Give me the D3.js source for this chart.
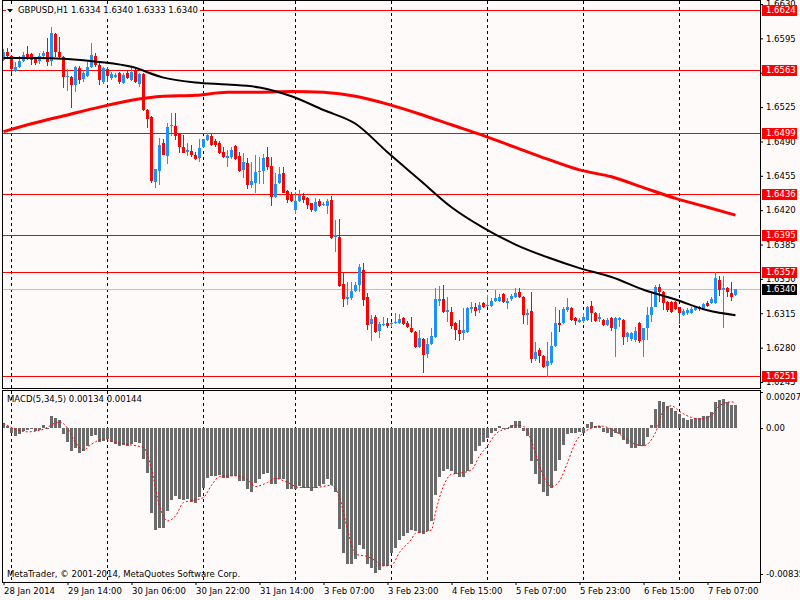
<!DOCTYPE html>
<html lang="en">
<head>
<meta charset="utf-8">
<title>GBPUSD,H1</title>
<script src="https://d3js.org/d3.v7.min.js"></script>
<style>
  body { margin: 0; background: #fffafa; }
  svg text { font-family: "DejaVu Sans", sans-serif; font-size: 8.5px; }
</style>
</head>
<body>
<div id="mainDiv"></div>
<script type="text/javascript">
const width = 800
const height = 600

// GBPUSD H1 candles, bar 0 = 28 Jan 22:00
const opens = [1.6573,1.6581,1.6577,1.6562,1.6566,1.6572,1.6579,1.6579,1.6574,1.6572,
  1.6577,1.6581,1.6572,1.6599,1.6581,1.6576,1.6556,1.6556,1.6548,1.6565,
  1.6554,1.6557,1.6566,1.6577,1.6568,1.6551,1.6564,1.6555,1.6556,1.6560,
  1.6550,1.6560,1.6553,1.6563,1.6549,1.6559,1.6522,1.6515,1.6449,1.6460,
  1.6488,1.6475,1.6506,1.6506,1.6498,1.6484,1.6479,1.6480,1.6476,1.6473,
  1.6484,1.6491,1.6496,1.6490,1.6488,1.6479,1.6473,1.6474,1.6485,1.6475,
  1.6461,1.6468,1.6446,1.6448,1.6459,1.6460,1.6474,1.6465,1.6433,1.6448,
  1.6458,1.6440,1.6435,1.6420,1.6429,1.6434,1.6432,1.6427,1.6419,1.6429,
  1.6425,1.6424,1.6430,1.6393,1.6393,1.6345,1.6330,1.6331,1.6338,1.6344,
  1.6359,1.6332,1.6304,1.6311,1.6297,1.6303,1.6305,1.6304,1.6305,1.6305,
  1.6310,1.6305,1.6300,1.6296,1.6281,1.6289,1.6274,1.6284,1.6291,1.6328,
  1.6330,1.6316,1.6316,1.6305,1.6298,1.6295,1.6296,1.6319,1.6321,1.6318,
  1.6325,1.6322,1.6322,1.6327,1.6328,1.6335,1.6325,1.6330,1.6332,1.6337,
  1.6332,1.6313,1.6317,1.6268,1.6278,1.6271,1.6261,1.6264,1.6282,1.6305,
  1.6305,1.6318,1.6320,1.6310,1.6306,1.6307,1.6308,1.6322,1.6315,1.6309,
  1.6308,1.6303,1.6310,1.6299,1.6308,1.6308,1.6291,1.6289,1.6288,1.6305,
  1.6288,1.6300,1.6313,1.6321,1.6342,1.6337,1.6326,1.6326,1.6326,1.6321,
  1.6313,1.6315,1.6315,1.6318,1.6321,1.6319,1.6325,1.6325,1.6325,1.6349,
  1.6339,1.6341,1.6336,1.6334]
const highs = [1.6584,1.6585,1.6578,1.6571,1.6577,1.6581,1.6587,1.6580,1.6576,1.6580,
  1.6582,1.6595,1.6607,1.6600,1.6596,1.6577,1.6564,1.6557,1.6567,1.6567,
  1.6563,1.6571,1.6590,1.6580,1.6570,1.6566,1.6566,1.6561,1.6560,1.6561,
  1.6560,1.6563,1.6565,1.6564,1.6560,1.6560,1.6523,1.6516,1.6462,1.6494,
  1.6493,1.6509,1.6519,1.6519,1.6499,1.6497,1.6488,1.6486,1.6479,1.6492,
  1.6493,1.6499,1.6498,1.6492,1.6490,1.6484,1.6481,1.6484,1.6486,1.6479,
  1.6478,1.6473,1.6469,1.6476,1.6474,1.6477,1.6484,1.6474,1.6458,1.6464,
  1.6464,1.6441,1.6439,1.6439,1.6441,1.6437,1.6433,1.6427,1.6432,1.6431,
  1.6428,1.6431,1.6434,1.6410,1.6411,1.6357,1.6347,1.6347,1.6347,1.6365,
  1.6366,1.6336,1.6313,1.6313,1.6306,1.6311,1.6310,1.6306,1.6315,1.6314,
  1.6311,1.6307,1.6311,1.6297,1.6298,1.6290,1.6290,1.6300,1.6341,1.6343,
  1.6344,1.6332,1.6321,1.6306,1.6308,1.6320,1.6321,1.6326,1.6325,1.6326,
  1.6326,1.6334,1.6331,1.6339,1.6335,1.6336,1.6331,1.6335,1.6341,1.6341,
  1.6333,1.6319,1.6337,1.6286,1.6280,1.6272,1.6286,1.6296,1.6321,1.6318,
  1.6321,1.6331,1.6321,1.6311,1.6310,1.6315,1.6322,1.6327,1.6316,1.6315,
  1.6309,1.6310,1.6311,1.6311,1.6311,1.6309,1.6296,1.6296,1.6301,1.6306,
  1.6300,1.6321,1.6336,1.6344,1.6345,1.6338,1.6328,1.6327,1.6328,1.6321,
  1.6319,1.6320,1.6321,1.6322,1.6322,1.6325,1.6328,1.6332,1.6357,1.6353,
  1.6353,1.6342,1.6347,1.6340]
const lows = [1.6572,1.6576,1.6560,1.6561,1.6565,1.6571,1.6573,1.6568,1.6568,1.6569,
  1.6575,1.6567,1.6567,1.6576,1.6575,1.6544,1.6541,1.6524,1.6540,1.6549,
  1.6551,1.6556,1.6565,1.6566,1.6547,1.6549,1.6551,1.6553,1.6555,1.6549,
  1.6549,1.6554,1.6552,1.6550,1.6545,1.6521,1.6504,1.6448,1.6443,1.6446,
  1.6476,1.6467,1.6496,1.6491,1.6478,1.6478,1.6475,1.6474,1.6471,1.6469,
  1.6483,1.6490,1.6485,1.6484,1.6477,1.6473,1.6464,1.6472,1.6471,1.6459,
  1.6453,1.6442,1.6443,1.6438,1.6447,1.6447,1.6461,1.6424,1.6432,1.6447,
  1.6437,1.6427,1.6428,1.6416,1.6428,1.6427,1.6421,1.6418,1.6418,1.6423,
  1.6424,1.6416,1.6391,1.6377,1.6342,1.6321,1.6323,1.6329,1.6337,1.6337,
  1.6322,1.6298,1.6287,1.6295,1.6290,1.6302,1.6300,1.6301,1.6304,1.6304,
  1.6303,1.6300,1.6295,1.6280,1.6280,1.6254,1.6269,1.6283,1.6290,1.6322,
  1.6315,1.6306,1.6299,1.6288,1.6287,1.6288,1.6295,1.6315,1.6312,1.6315,
  1.6320,1.6321,1.6321,1.6326,1.6326,1.6325,1.6319,1.6328,1.6331,1.6331,
  1.6304,1.6303,1.6264,1.6266,1.6264,1.6259,1.6250,1.6262,1.6281,1.6296,
  1.6304,1.6316,1.6307,1.6303,1.6305,1.6305,1.6307,1.6306,1.6306,1.6306,
  1.6302,1.6302,1.6297,1.6270,1.6301,1.6283,1.6286,1.6287,1.6286,1.6285,
  1.6270,1.6288,1.6306,1.6321,1.6326,1.6318,1.6316,1.6315,1.6318,1.6304,
  1.6312,1.6313,1.6314,1.6317,1.6317,1.6318,1.6321,1.6324,1.6324,1.6333,
  1.6300,1.6332,1.6327,1.6333]
const closes = [1.6581,1.6577,1.6564,1.6566,1.6572,1.6578,1.6574,1.6573,1.6570,1.6577,
  1.6580,1.6571,1.6600,1.6581,1.6576,1.6556,1.6557,1.6548,1.6566,1.6553,
  1.6560,1.6566,1.6578,1.6568,1.6553,1.6565,1.6557,1.6559,1.6558,1.6551,
  1.6558,1.6555,1.6561,1.6551,1.6559,1.6522,1.6513,1.6450,1.6462,1.6486,
  1.6476,1.6505,1.6507,1.6496,1.6484,1.6478,1.6481,1.6476,1.6472,1.6483,
  1.6492,1.6497,1.6486,1.6486,1.6478,1.6474,1.6475,1.6481,1.6472,1.6460,
  1.6469,1.6446,1.6450,1.6459,1.6460,1.6473,1.6464,1.6433,1.6447,1.6457,
  1.6438,1.6430,1.6429,1.6429,1.6435,1.6430,1.6425,1.6420,1.6428,1.6424,
  1.6426,1.6429,1.6392,1.6395,1.6343,1.6330,1.6332,1.6338,1.6344,1.6362,
  1.6329,1.6303,1.6309,1.6296,1.6304,1.6304,1.6302,1.6305,1.6306,1.6309,
  1.6304,1.6301,1.6296,1.6281,1.6290,1.6272,1.6284,1.6292,1.6330,1.6330,
  1.6316,1.6318,1.6302,1.6298,1.6294,1.6298,1.6320,1.6321,1.6317,1.6323,
  1.6321,1.6323,1.6327,1.6331,1.6332,1.6326,1.6328,1.6333,1.6336,1.6332,
  1.6313,1.6315,1.6268,1.6276,1.6271,1.6260,1.6266,1.6282,1.6305,1.6303,
  1.6319,1.6321,1.6308,1.6307,1.6308,1.6311,1.6321,1.6315,1.6307,1.6311,
  1.6303,1.6308,1.6300,1.6310,1.6310,1.6291,1.6295,1.6295,1.6297,1.6287,
  1.6300,1.6313,1.6321,1.6342,1.6337,1.6325,1.6318,1.6316,1.6319,1.6315,
  1.6317,1.6318,1.6319,1.6321,1.6319,1.6324,1.6322,1.6330,1.6351,1.6339,
  1.6341,1.6337,1.6332,1.6340]

// moving averages, read every 8 bars
const maIdx = [0,8,16,24,32,40,48,56,64,72,80,88,96,104,112,120,128,136,144,152,160,168,176,183]
const blackMA = [1.6575,1.6575,1.6574,1.6571,1.6566,1.6555,1.6550,1.6548,1.6545,1.6536,1.6522,1.6508,
  1.6479,1.6451,1.6423,1.6402,1.6385,1.6372,1.6361,1.6352,1.6339,1.6329,1.6318,1.6313]
const redMA = [1.6500,1.6509,1.6517,1.6525,1.6532,1.6536,1.6537,1.6540,1.6540,1.6541,1.6540,1.6536,
  1.6528,1.6518,1.6507,1.6496,1.6484,1.6472,1.6461,1.6454,1.6443,1.6432,1.6423,1.6415]

// MACD(5,34,5)
const macdHist = [0.00027,0.00013,-0.00025,-0.00044,-0.00034,-0.00015,-0.00011,-0.00006,-0.00015,-0.00010,
  0.00017,-0.00003,0.00070,0.00061,0.00048,-0.00034,-0.00079,-0.00130,-0.00111,-0.00143,
  -0.00130,-0.00101,-0.00044,-0.00040,-0.00079,-0.00073,-0.00063,-0.00082,-0.00092,-0.00101,
  -0.00097,-0.00101,-0.00092,-0.00082,-0.00086,-0.00178,-0.00258,-0.00483,-0.00583,-0.00569,
  -0.00573,-0.00474,-0.00411,-0.00391,-0.00403,-0.00411,-0.00407,-0.00422,-0.00430,-0.00397,
  -0.00340,-0.00288,-0.00273,-0.00273,-0.00269,-0.00288,-0.00288,-0.00273,-0.00273,-0.00302,
  -0.00302,-0.00350,-0.00368,-0.00315,-0.00292,-0.00264,-0.00254,-0.00321,-0.00321,-0.00292,
  -0.00292,-0.00350,-0.00350,-0.00350,-0.00334,-0.00340,-0.00340,-0.00359,-0.00340,-0.00331,
  -0.00321,-0.00292,-0.00327,-0.00368,-0.00579,-0.00712,-0.00779,-0.00779,-0.00751,-0.00669,
  -0.00693,-0.00779,-0.00798,-0.00827,-0.00812,-0.00792,-0.00789,-0.00716,-0.00684,-0.00642,
  -0.00617,-0.00602,-0.00583,-0.00588,-0.00598,-0.00607,-0.00588,-0.00531,-0.00384,-0.00282,
  -0.00245,-0.00235,-0.00245,-0.00264,-0.00282,-0.00279,-0.00245,-0.00206,-0.00130,-0.00101,
  -0.00082,-0.00057,-0.00029,-0.00015,0.00010,0.00003,0.00002,0.00019,0.00040,0.00040,
  -0.00015,-0.00044,-0.00187,-0.00264,-0.00321,-0.00368,-0.00388,-0.00340,-0.00245,-0.00182,
  -0.00097,-0.00034,-0.00029,-0.00025,-0.00021,-0.00025,0.00023,0.00036,0.00013,0.00010,
  -0.00021,-0.00025,-0.00053,-0.00029,-0.00034,-0.00067,-0.00088,-0.00111,-0.00111,-0.00105,
  -0.00101,-0.00048,0.00017,0.00109,0.00155,0.00147,0.00124,0.00113,0.00099,0.00080,
  0.00061,0.00048,0.00052,0.00056,0.00061,0.00067,0.00067,0.00090,0.00151,0.00162,
  0.00166,0.00151,0.00132,0.00134]
const sigIdx = [0,3,6,10,14,16,18,20,22,25,28,32,35,37,39,41,43,45,48,50,52,54,58,61,63,66,68,71,74,78,
  82,84,86,88,91,93,95,97,99,102,103,107,108,110,112,114,117,119,121,123,126,128,130,132,134,137,139,141,143,145,
  147,149,152,154,158,160,163,165,167,169,172,174,177,179,182,183]
const sigVal = [0.00029,-0.00006,-0.00021,-0.00006,0.00036,0,-0.00082,-0.00124,-0.00092,-0.00063,
  -0.00082,-0.00097,-0.00111,-0.00235,-0.00445,-0.00531,-0.00503,-0.00426,-0.00411,-0.00397,
  -0.00327,-0.00277,-0.00273,-0.00296,-0.00334,-0.00311,-0.00288,-0.00311,-0.00340,-0.00340,
  -0.00327,-0.00397,-0.00579,-0.00722,-0.00735,-0.00760,-0.00789,-0.00785,-0.00711,-0.00636,
  -0.00602,-0.00583,-0.00483,-0.00331,-0.00264,-0.00258,-0.00239,-0.00159,-0.00101,-0.00034,
  0,0.00017,0.00010,-0.00073,-0.00216,-0.00334,-0.00302,-0.00197,-0.00082,-0.00025,
  0,0.00013,-0.00006,-0.00034,-0.00092,-0.00101,-0.00025,0.00099,0.00128,0.00096,
  0.00061,0.00052,0.00074,0.00128,0.00151,0.00144]

const levels = [1.6624, 1.6563, 1.6499, 1.6436, 1.6395, 1.6357, 1.6251]
const lastPrice = 1.6340
const priceTicks = [1.6630,1.6595,1.6560,1.6525,1.6490,1.6455,1.6420,1.6385,1.6350,1.6315,1.6280,1.6245]
const macdTicks = [0.00207, 0, -0.00835]
const dayIdx = [2, 26, 50, 73, 97, 121, 145, 169]
const timeIdx = [0,16,32,48,64,80,96,112,128,144,160,176]
const timeLabels = ['28 Jan 2014','29 Jan 14:00','30 Jan 06:00','30 Jan 22:00','31 Jan 14:00','3 Feb 07:00',
  '3 Feb 23:00','4 Feb 15:00','5 Feb 07:00','5 Feb 23:00','6 Feb 15:00','7 Feb 07:00']
const titleText = 'GBPUSD,H1  1.6334 1.6340 1.6333 1.6340'
const macdText = 'MACD(5,34,5) 0.00134 0.00144'
const copyText = 'MetaTrader, \u00a9 2001-2014, MetaQuotes Software Corp.'

const bg = '#fffafa'
const bull = '#1e90ff'
const bear = '#ff0000'

const svg = d3.select('#mainDiv').append('svg')
    .attr('width', width)
    .attr('height', height)
svg.append('rect').attr('width', width).attr('height', height).attr('fill', bg)

const xScale = d3.scaleLinear().domain([0, 183]).range([3.5, 735.5])
const yPrice = d3.scaleLinear().domain([1.6245, 1.6630]).range([382, 4])
const yMacd = d3.scaleLinear().domain([-0.00835, 0.00207]).range([574, 392])
const bars = d3.range(closes.length)

// day separators, both windows
const grid = svg.append('g').attr('stroke', '#000').attr('stroke-dasharray', '3,3').attr('shape-rendering', 'crispEdges')
grid.selectAll('.gm').data(dayIdx).join('line').attr('class', 'gm')
    .attr('x1', d => xScale(d)).attr('x2', d => xScale(d)).attr('y1', 1).attr('y2', 388)
grid.selectAll('.gs').data(dayIdx).join('line').attr('class', 'gs')
    .attr('x1', d => xScale(d)).attr('x2', d => xScale(d)).attr('y1', 391).attr('y2', 582)

// horizontal levels + bid line
const lv = svg.append('g').attr('shape-rendering', 'crispEdges')
lv.append('line').attr('x1', 3).attr('x2', 760)
    .attr('y1', Math.round(yPrice(lastPrice)) + 0.5).attr('y2', Math.round(yPrice(lastPrice)) + 0.5)
    .attr('stroke', '#c0c0c0')
lv.selectAll('.lvl').data(levels).join('line').attr('class', 'lvl')
    .attr('x1', 3).attr('x2', 760)
    .attr('y1', d => Math.round(yPrice(d)) + 0.5).attr('y2', d => Math.round(yPrice(d)) + 0.5)
    .attr('stroke', bear)

// candles
const cg = svg.append('g').attr('shape-rendering', 'crispEdges')
cg.selectAll('line').data(bars).join('line')
    .attr('x1', i => xScale(i)).attr('x2', i => xScale(i))
    .attr('y1', i => yPrice(highs[i])).attr('y2', i => yPrice(lows[i]))
    .attr('stroke', i => closes[i] >= opens[i] ? bull : bear)
cg.selectAll('rect').data(bars).join('rect')
    .attr('x', i => xScale(i) - 1.5)
    .attr('width', 3)
    .attr('y', i => yPrice(Math.max(opens[i], closes[i])))
    .attr('height', i => Math.max(1, Math.abs(yPrice(opens[i]) - yPrice(closes[i]))))
    .attr('fill', i => closes[i] >= opens[i] ? bull : bear)

// moving averages
const maLine = vals => d3.line()
    .x((d, k) => xScale(maIdx[k]))
    .y(d => yPrice(d))
    .curve(d3.curveMonotoneX)(vals)
svg.append('path').attr('d', maLine(redMA)).attr('fill', 'none').attr('stroke', bear).attr('stroke-width', 3)
svg.append('path').attr('d', maLine(blackMA)).attr('fill', 'none').attr('stroke', '#000').attr('stroke-width', 2)

// MACD histogram + signal
svg.append('g').attr('shape-rendering', 'crispEdges')
    .selectAll('rect').data(bars).join('rect')
    .attr('x', i => xScale(i) - 1.5)
    .attr('width', 3)
    .attr('y', i => Math.min(yMacd(0), yMacd(macdHist[i])))
    .attr('height', i => Math.max(1, Math.abs(yMacd(macdHist[i]) - yMacd(0))))
    .attr('fill', '#6b6b6b')
svg.append('path')
    .attr('d', d3.line().x((d, k) => xScale(sigIdx[k])).y(d => yMacd(d)).curve(d3.curveMonotoneX)(sigVal))
    .attr('fill', 'none').attr('stroke', bear).attr('stroke-width', 1).attr('stroke-dasharray', '2,2')

// window frames
svg.append('rect').attr('x', 2.5).attr('y', 0.5).attr('width', 758).attr('height', 388)
    .attr('fill', 'none').attr('stroke', '#000')
svg.append('rect').attr('x', 2.5).attr('y', 390.5).attr('width', 758).attr('height', 192)
    .attr('fill', 'none').attr('stroke', '#000')

// price axis
const gP = svg.append('g').attr('transform', 'translate(760,0)')
    .call(d3.axisRight(yPrice).tickValues(priceTicks).tickFormat(d => d.toFixed(4)).tickSize(3).tickPadding(3))
gP.select('.domain').remove()

// level tags
const tags = svg.append('g')
tags.selectAll('rect').data(levels).join('rect')
    .attr('x', 762).attr('width', 35).attr('y', d => Math.round(yPrice(d)) - 5).attr('height', 11)
    .attr('fill', bear)
tags.selectAll('text').data(levels).join('text')
    .attr('x', 766).attr('y', d => Math.round(yPrice(d)) + 0.5).attr('dy', '0.35em')
    .attr('fill', '#fff').text(d => d.toFixed(4))
tags.append('rect').attr('x', 762).attr('width', 35).attr('y', Math.round(yPrice(lastPrice)) - 5).attr('height', 11)
    .attr('fill', '#000')
tags.append('text').attr('x', 766).attr('y', Math.round(yPrice(lastPrice)) + 0.5).attr('dy', '0.35em')
    .attr('fill', '#fff').text(lastPrice.toFixed(4))

// MACD axis
const gM = svg.append('g').attr('transform', 'translate(760,0)')
    .call(d3.axisRight(yMacd).tickValues(macdTicks).tickFormat(d => d === 0 ? '0.00' : d.toFixed(5)).tickSize(3).tickPadding(3))
gM.select('.domain').remove()
gM.selectAll('.tick text').filter(d => d > 0).attr('dy', '0.9em')

// time axis
const gT = svg.append('g').attr('transform', 'translate(0,582)')
    .call(d3.axisBottom(xScale).tickValues(timeIdx).tickFormat((d, k) => timeLabels[k]).tickSize(3).tickPadding(3))
gT.select('.domain').remove()
gT.selectAll('.tick text').attr('text-anchor', 'start')

// titles
svg.append('rect').attr('x', 6).attr('y', 4).attr('width', 194).attr('height', 12).attr('fill', bg)
svg.append('path').attr('d', 'M7,9 L13,9 L10,12.5 Z').attr('fill', '#000')
svg.append('text').attr('x', 18).attr('y', 10).attr('dy', '0.35em').text(titleText)
svg.append('text').attr('x', 7).attr('y', 399).attr('dy', '0.35em').text(macdText)
svg.append('text').attr('x', 7).attr('y', 574).attr('dy', '0.35em').text(copyText)
</script>
</body>
</html>
